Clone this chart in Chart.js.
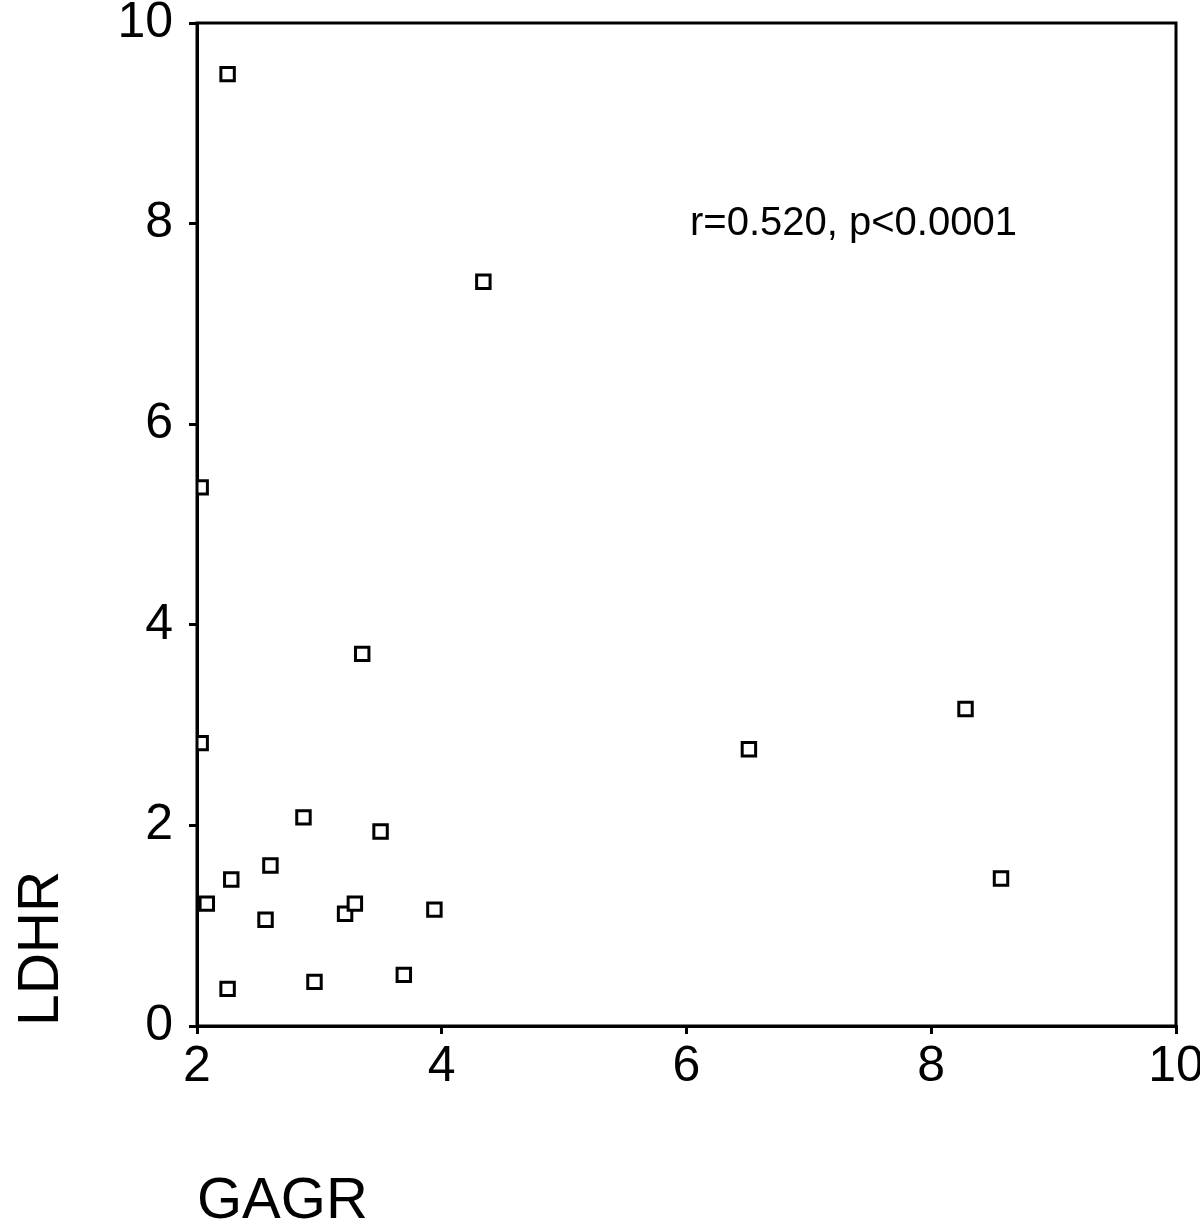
<!DOCTYPE html>
<html>
<head>
<meta charset="utf-8">
<script src="https://cdn.jsdelivr.net/npm/chart.js@4/dist/chart.umd.min.js"></script>
<style>
  html, body { margin: 0; padding: 0; background: #fff; }
  #wrap { width: 1200px; height: 1227px; }
</style>
</head>
<body>
<div id="wrap"><canvas id="scatterChart"></canvas></div>
<script>
// 数据：GAGR (x) 与 LDHR (y)
const gagr = [2.25, 4.34, 2.03, 3.35, 2.03, 6.51, 8.28, 8.57, 2.87, 3.50,
              2.60, 2.28, 2.08, 2.56, 3.21, 3.29, 3.94, 2.25, 2.96, 3.69];
const ldhr = [9.49, 7.42, 5.37, 3.71, 2.82, 2.76, 3.16, 1.47, 2.08, 1.94,
              1.60, 1.46, 1.22, 1.06, 1.12, 1.22, 1.16, 0.37, 0.44, 0.51];
const xTicks = [2, 4, 6, 8, 10];
const yTicks = [0, 2, 4, 6, 8, 10];
const xTitle = 'GAGR';
const yTitle = 'LDHR';
const note = 'r=0.520, p<0.0001';

const points = gagr.map((x, i) => ({ x: x, y: ldhr[i] }));
const FONT = 'Liberation Sans, Arial, sans-serif';

// 画外框和注释文字
const boxPlugin = {
  id: 'boxPlugin',
  afterDraw(chart) {
    const { ctx, chartArea: a } = chart;
    ctx.save();
    ctx.strokeStyle = '#000';
    ctx.lineWidth = 3;
    ctx.strokeRect(a.left, a.top, a.right - a.left, a.bottom - a.top);
    ctx.fillStyle = '#000';
    ctx.font = '40px ' + FONT;
    ctx.textBaseline = 'alphabetic';
    ctx.textAlign = 'left';
    ctx.fillText(note, 690, 235);
    ctx.restore();
  }
};

const chart = new Chart(document.getElementById('scatterChart'), {
  type: 'scatter',
  data: {
    datasets: [{
      data: points,
      pointStyle: 'rect',
      pointRadius: 9.5,
      pointHoverRadius: 9.5,
      pointBorderColor: '#000',
      pointBackgroundColor: '#fff',
      pointBorderWidth: 3,
      pointHoverBorderWidth: 3
    }]
  },
  options: {
    responsive: true,
    maintainAspectRatio: false,
    animation: false,
    layout: { padding: 0 },
    plugins: { legend: { display: false }, tooltip: { enabled: false } },
    scales: {
      x: {
        type: 'linear',
        min: 2, max: 10,
        afterBuildTicks: s => { s.ticks = xTicks.map(v => ({ value: v })); },
        afterFit: s => { s.height = 201; s.paddingRight = 24; s.paddingLeft = 0; },
        grid: { drawOnChartArea: false, drawTicks: true, tickLength: 8, color: '#000', lineWidth: 3 },
        border: { display: true, color: '#000', width: 3 },
        ticks: { color: '#000', font: { family: FONT, size: 50 }, padding: 3, maxRotation: 0 },
        title: {
          display: true, text: xTitle, align: 'start', color: '#000',
          font: { family: FONT, size: 58, lineHeight: 0.86 }, padding: 0
        }
      },
      y: {
        type: 'linear',
        min: 0, max: 10,
        afterBuildTicks: s => { s.ticks = yTicks.map(v => ({ value: v })); },
        afterFit: s => { s.width = 197; s.paddingTop = 23; s.paddingBottom = 0; },
        grid: { drawOnChartArea: false, drawTicks: true, tickLength: 8, color: '#000', lineWidth: 3 },
        border: { display: true, color: '#000', width: 3 },
        ticks: { color: '#000', font: { family: FONT, size: 50 }, padding: 16 },
        title: {
          display: true, text: yTitle, align: 'start', color: '#000',
          font: { family: FONT, size: 57, lineHeight: 1 }, padding: { top: 14, bottom: 0 }
        }
      }
    }
  },
  plugins: [boxPlugin]
});
</script>
</body>
</html>
